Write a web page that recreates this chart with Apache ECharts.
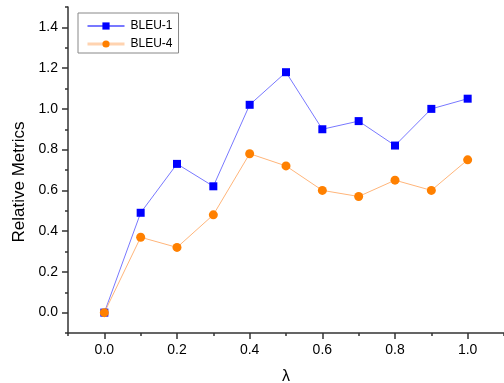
<!DOCTYPE html>
<html>
<head>
<meta charset="utf-8">
<script src="https://cdn.jsdelivr.net/npm/echarts@6/dist/echarts.min.js"></script>
<style>
  html, body { margin: 0; padding: 0; background: #fff; }
  #chart { width: 504px; height: 383px; }
</style>
</head>
<body>
<div id="chart"></div>
<script>
var lambdas = [0.0, 0.1, 0.2, 0.3, 0.4, 0.5, 0.6, 0.7, 0.8, 0.9, 1.0];
var bleu1 = [0.0, 0.49, 0.73, 0.62, 1.02, 1.18, 0.90, 0.94, 0.82, 1.00, 1.05];
var bleu4 = [0.0, 0.37, 0.32, 0.48, 0.78, 0.72, 0.60, 0.57, 0.65, 0.60, 0.75];
var xTicks = [0.0, 0.2, 0.4, 0.6, 0.8, 1.0];
var xMinor = [-0.1, 0.1, 0.3, 0.5, 0.7, 0.9, 1.1];
var yTicks = [0.0, 0.2, 0.4, 0.6, 0.8, 1.0, 1.2, 1.4];
var yMinor = [-0.1, 0.1, 0.3, 0.5, 0.7, 0.9, 1.1, 1.3, 1.5];

var chart = echarts.init(document.getElementById('chart'));

function pairs(ys) {
    return lambdas.map(function (x, i) { return [x, ys[i]]; });
}

var axisColor = '#333';
var font = 'Liberation Sans, Arial, sans-serif';

var option = {
    animation: false,
    grid: { left: 68, right: 0, top: 7, bottom: 50, outerBoundsMode: 'none' },
    legend: {
        orient: 'vertical',
        left: 78,
        top: 13,
        padding: [7, 6, 3, 8],
        itemGap: 6,
        itemWidth: 37,
        itemHeight: 9,
        borderColor: '#888',
        borderWidth: 1,
        borderRadius: 0,
        textStyle: { fontFamily: font, fontSize: 12, color: '#000', padding: [0, 0, 0, 1] },
        data: [
            { name: 'BLEU-1' },
            { name: 'BLEU-4', lineStyle: { width: 3, color: '#ffd3b0' } }
        ]
    },
    xAxis: [{
        type: 'value',
        min: -0.1,
        max: 1.1,
        name: 'λ',
        nameLocation: 'middle',
        nameGap: 36,
        nameTextStyle: { fontFamily: font, fontSize: 16, color: '#000' },
        splitLine: { show: false },
        axisLine: { onZero: false, lineStyle: { color: axisColor, width: 1.5 } },
        axisTick: { customValues: xTicks, length: 6, lineStyle: { color: axisColor, width: 1.5 } },
        axisLabel: {
            customValues: xTicks,
            margin: 10,
            fontFamily: font, fontSize: 14, color: '#000',
            formatter: function (v) { return v.toFixed(1); }
        }
    }, {
        type: 'value',
        min: -0.1,
        max: 1.1,
        position: 'bottom',
        splitLine: { show: false },
        axisLine: { show: false, onZero: false },
        axisTick: { customValues: xMinor, length: 3, lineStyle: { color: axisColor, width: 1.5 } },
        axisLabel: { show: false }
    }],
    yAxis: [{
        type: 'value',
        min: -0.1,
        max: 1.5,
        name: 'Relative Metrics',
        nameLocation: 'middle',
        nameGap: 38,
        nameTextStyle: { fontFamily: font, fontSize: 17, color: '#000', padding: [0, 24, 0, 0] },
        splitLine: { show: false },
        axisLine: { show: true, onZero: false, lineStyle: { color: axisColor, width: 1.5 } },
        axisTick: { show: true, customValues: yTicks, length: 6, lineStyle: { color: axisColor, width: 1.5 } },
        axisLabel: {
            customValues: yTicks,
            margin: 10,
            fontFamily: font, fontSize: 14, color: '#000',
            formatter: function (v) { return v.toFixed(1); }
        }
    }, {
        type: 'value',
        min: -0.1,
        max: 1.5,
        position: 'left',
        splitLine: { show: false },
        axisLine: { show: false, onZero: false },
        axisTick: { show: true, customValues: yMinor, length: 3, lineStyle: { color: axisColor, width: 1.5 } },
        axisLabel: { show: false }
    }],
    series: [{
        name: 'BLEU-1',
        type: 'line',
        data: pairs(bleu1),
        symbol: 'rect',
        symbolSize: 8,
        itemStyle: { color: '#0000ff' },
        lineStyle: { color: '#7878ff', width: 1 }
    }, {
        name: 'BLEU-4',
        type: 'line',
        data: pairs(bleu4),
        symbol: 'circle',
        symbolSize: 9,
        itemStyle: { color: '#ff8000' },
        lineStyle: { color: '#ffb57a', width: 1 }
    }]
};

chart.setOption(option);
</script>
</body>
</html>
